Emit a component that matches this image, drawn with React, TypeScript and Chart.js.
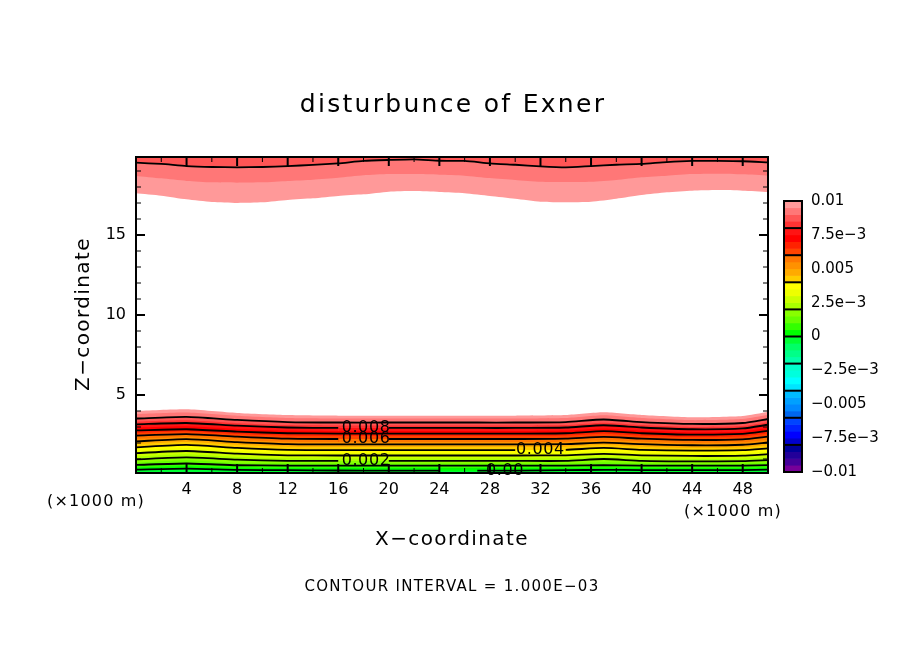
import { useEffect, useRef } from "react";
import { Chart, registerables } from "chart.js";

Chart.register(...registerables);

const BLACK = "#000000";
const FONT = "'DejaVu Sans'";

// x positions (km) of the top layer contours, read every 2 km
const TOP_X = [0, 2, 4, 6, 8, 10, 12, 14, 16, 18, 20, 22, 24, 26, 28, 30, 32, 34, 36, 38, 40, 42, 44, 46, 48, 50];
const TOP_090 = [19.52, 19.44, 19.31, 19.25, 19.23, 19.25, 19.31, 19.38, 19.48, 19.63, 19.69, 19.73, 19.64, 19.63, 19.48, 19.39, 19.29, 19.23, 19.31, 19.39, 19.44, 19.56, 19.63, 19.63, 19.61, 19.54];
const TOP_095 = [18.69, 18.54, 18.38, 18.29, 18.27, 18.29, 18.38, 18.46, 18.58, 18.73, 18.81, 18.81, 18.77, 18.71, 18.56, 18.44, 18.33, 18.31, 18.33, 18.44, 18.61, 18.71, 18.81, 18.83, 18.79, 18.71];
const TOP_100 = [17.61, 17.46, 17.23, 17.06, 17.0, 17.04, 17.19, 17.29, 17.44, 17.54, 17.71, 17.75, 17.69, 17.61, 17.44, 17.27, 17.08, 17.04, 17.08, 17.27, 17.5, 17.67, 17.77, 17.81, 17.77, 17.69];

// x positions (km) of the low layer contours
const LOW_X = [0, 4, 8, 12, 16, 20, 24, 27, 30, 34, 37, 40, 44, 48, 50];
const LOW_100 = [4.0, 4.11, 3.88, 3.75, 3.71, 3.71, 3.71, 3.71, 3.71, 3.75, 3.92, 3.75, 3.61, 3.69, 3.96];
const LOW_095 = [3.8, 3.9, 3.7, 3.56, 3.53, 3.53, 3.53, 3.53, 3.53, 3.56, 3.73, 3.56, 3.43, 3.5, 3.77];
const LOW_090 = [3.53, 3.63, 3.44, 3.31, 3.28, 3.28, 3.28, 3.28, 3.28, 3.31, 3.47, 3.31, 3.19, 3.25, 3.5];
const LOW_085 = [3.33, 3.42, 3.24, 3.12, 3.09, 3.09, 3.09, 3.09, 3.09, 3.12, 3.27, 3.12, 3.0, 3.06, 3.3];
const LOW_080 = [3.17, 3.25, 3.08, 2.97, 2.94, 2.94, 2.94, 2.94, 2.94, 2.97, 3.11, 2.97, 2.86, 2.91, 3.14];
const LOW_075 = [2.96, 3.04, 2.88, 2.78, 2.75, 2.75, 2.75, 2.75, 2.75, 2.78, 2.91, 2.78, 2.67, 2.72, 2.93];
const LOW_070 = [2.79, 2.86, 2.71, 2.61, 2.59, 2.59, 2.59, 2.59, 2.59, 2.61, 2.74, 2.61, 2.52, 2.57, 2.76];
const LOW_065 = [2.63, 2.72, 2.56, 2.46, 2.44, 2.44, 2.44, 2.44, 2.44, 2.46, 2.58, 2.46, 2.37, 2.42, 2.6];
const LOW_060 = [2.46, 2.55, 2.4, 2.27, 2.25, 2.25, 2.25, 2.25, 2.25, 2.27, 2.38, 2.27, 2.19, 2.23, 2.4];
const LOW_055 = [2.26, 2.38, 2.21, 2.08, 2.06, 2.06, 2.06, 2.06, 2.06, 2.08, 2.18, 2.08, 2.0, 2.04, 2.2];
const LOW_050 = [2.1, 2.24, 2.06, 1.93, 1.91, 1.91, 1.91, 1.91, 1.91, 1.93, 2.02, 1.93, 1.86, 1.89, 2.03];
const LOW_045 = [1.93, 2.06, 1.89, 1.77, 1.75, 1.75, 1.75, 1.75, 1.75, 1.77, 1.87, 1.77, 1.7, 1.73, 1.86];
const LOW_040 = [1.73, 1.88, 1.69, 1.57, 1.56, 1.56, 1.56, 1.56, 1.56, 1.57, 1.69, 1.57, 1.52, 1.55, 1.66];
const LOW_035 = [1.54, 1.68, 1.5, 1.39, 1.38, 1.38, 1.38, 1.38, 1.38, 1.39, 1.5, 1.39, 1.34, 1.37, 1.47];
const LOW_030 = [1.37, 1.5, 1.33, 1.23, 1.22, 1.22, 1.22, 1.22, 1.22, 1.23, 1.32, 1.23, 1.19, 1.21, 1.3];
const LOW_025 = [1.16, 1.3, 1.13, 1.04, 1.03, 1.03, 1.03, 1.03, 1.03, 1.04, 1.14, 1.04, 1.0, 1.02, 1.09];
const LOW_020 = [0.98, 1.1, 0.96, 0.88, 0.88, 0.88, 0.88, 0.88, 0.88, 0.88, 1.0, 0.88, 0.85, 0.87, 0.93];
const LOW_015 = [0.77, 0.92, 0.75, 0.73, 0.72, 0.72, 0.72, 0.72, 0.72, 0.73, 0.8, 0.73, 0.7, 0.71, 0.76];
const LOW_010 = [0.63, 0.72, 0.61, 0.59, 0.59, 0.59, 0.59, 0.59, 0.59, 0.59, 0.62, 0.59, 0.58, 0.59, 0.62];
const LOW_005 = [0.47, 0.55, 0.45, 0.44, 0.44, 0.44, 0.44, 0.44, 0.44, 0.44, 0.46, 0.44, 0.43, 0.44, 0.46];
const LOW_000 = [0.33, 0.4, 0.32, 0.3, 0.28, 0.27, 0.27, 0.27, 0.27, 0.3, 0.32, 0.31, 0.3, 0.31, 0.33];

// 0.0005 wide colour bands, from 0.01 down to -0.01
const BAND_COLORS = [
  "#ff9999", "#ff7777", "#ff5555", "#ff3333",
  "#ff1414", "#ff0000", "#ff2200", "#ff4400",
  "#ff7700", "#ff9100", "#ffaa00", "#ffcc00",
  "#ffff00", "#eeff00", "#ccff00", "#aaff00",
  "#88ff00", "#66ff00", "#33ff00", "#00ff00",
  "#00ff33", "#00ff66", "#00ff88", "#00ffaa",
  "#00ffcc", "#00ffdd", "#00ffff", "#00e5ff",
  "#00bbff", "#00a0ff", "#0088ff", "#0066ee",
  "#0044ff", "#0022ff", "#0000ff", "#0000cc",
  "#000099", "#220099", "#440099", "#770099",
];
const BAR_TICK_VALUES = [0.01, 0.0075, 0.005, 0.0025, 0, -0.0025, -0.005, -0.0075, -0.01];
const BAR_TICK_LABELS = ["0.01", "7.5e\u22123", "0.005", "2.5e\u22123", "0", "\u22122.5e\u22123", "\u22120.005", "\u22127.5e\u22123", "\u22120.01"];
const BAR_SEPARATORS = [0.008, 0.006, 0.004, 0.002, 0, -0.002, -0.004, -0.006, -0.008];

const LOW_CURVES = [
  { band: 20, heights: LOW_000, line: true, gap: [24, 27] },
  { band: 19, heights: LOW_005, line: false },
  { band: 18, heights: LOW_010, line: true },
  { band: 17, heights: LOW_015, line: false },
  { band: 16, heights: LOW_020, line: true, gap: [16, 20] },
  { band: 15, heights: LOW_025, line: false },
  { band: 14, heights: LOW_030, line: true },
  { band: 13, heights: LOW_035, line: false },
  { band: 12, heights: LOW_040, line: true, gap: [30, 34] },
  { band: 11, heights: LOW_045, line: false },
  { band: 10, heights: LOW_050, line: true },
  { band: 9, heights: LOW_055, line: false },
  { band: 8, heights: LOW_060, line: true, gap: [16, 20] },
  { band: 7, heights: LOW_065, line: false },
  { band: 6, heights: LOW_070, line: true },
  { band: 5, heights: LOW_075, line: false },
  { band: 4, heights: LOW_080, line: true, gap: [16, 20] },
  { band: 3, heights: LOW_085, line: false },
  { band: 2, heights: LOW_090, line: true },
  { band: 1, heights: LOW_095, line: false },
  { band: 0, heights: LOW_100, line: false },
];

const TOP_CURVES = [
  { band: 2, heights: TOP_090, line: true },
  { band: 1, heights: TOP_095, line: false },
  { band: 0, heights: TOP_100, line: false },
];

const CONTOUR_LABELS = [
  { text: "0.008", x: 18.2, z: 2.94 },
  { text: "0.006", x: 18.2, z: 2.25 },
  { text: "0.002", x: 18.2, z: 0.88 },
  { text: "0.004", x: 32, z: 1.56 },
  { text: "0.00", x: 29.2, z: 0.27 },
];

function drawText(ctx: CanvasRenderingContext2D, text: string, x: number, y: number, size: number, spacing: number, rotate = false) {
  ctx.save();
  ctx.translate(x, y);
  if (rotate) ctx.rotate(-Math.PI / 2);
  ctx.font = `${size}px ${FONT}`;
  ctx.letterSpacing = `${spacing}px`;
  ctx.fillStyle = BLACK;
  ctx.textAlign = "center";
  ctx.textBaseline = "middle";
  ctx.fillText(text, 0, 0);
  ctx.restore();
}

// frame, inward ticks, contour labels and captions
const decorations = {
  id: "decorations",
  afterDatasetsDraw(chart: any) {
    const { ctx, chartArea: a, scales } = chart;
    ctx.save();
    ctx.strokeStyle = BLACK;
    for (const t of scales.x.ticks) {
      const major = t.value % 4 === 0;
      const px = scales.x.getPixelForValue(t.value);
      const len = major ? 9 : 5;
      ctx.lineWidth = major ? 2 : 1;
      ctx.beginPath();
      ctx.moveTo(px, a.bottom);
      ctx.lineTo(px, a.bottom - len);
      ctx.moveTo(px, a.top);
      ctx.lineTo(px, a.top + len);
      ctx.stroke();
    }
    for (const t of scales.y.ticks) {
      const major = t.value % 5 === 0;
      const py = scales.y.getPixelForValue(t.value);
      const len = major ? 9 : 5;
      ctx.lineWidth = major ? 2 : 1;
      ctx.beginPath();
      ctx.moveTo(a.left, py);
      ctx.lineTo(a.left + len, py);
      ctx.moveTo(a.right, py);
      ctx.lineTo(a.right - len, py);
      ctx.stroke();
    }
    ctx.lineWidth = 2;
    ctx.strokeRect(a.left, a.top, a.right - a.left, a.bottom - a.top);
    ctx.restore();

    for (const l of CONTOUR_LABELS) {
      drawText(ctx, l.text, scales.x.getPixelForValue(l.x), scales.y.getPixelForValue(l.z), 16, 0.6);
    }
    drawText(ctx, "disturbunce of Exner", 453, 105, 25, 2.3);
    drawText(ctx, "Z\u2212coordinate", 84, 314, 20, 1.4, true);
    drawText(ctx, "X\u2212coordinate", 452, 540, 20, 1.4);
    drawText(ctx, "CONTOUR INTERVAL = 1.000E\u221203", 452, 587, 15, 1.3);
    drawText(ctx, "(\u00d71000 m)", 96, 502, 16, 1.2);
    drawText(ctx, "(\u00d71000 m)", 733, 512, 16, 1.2);
  },
};

const barFrame = {
  id: "barFrame",
  afterDatasetsDraw(chart: any) {
    const { ctx, chartArea: a, scales } = chart;
    ctx.save();
    ctx.strokeStyle = BLACK;
    ctx.lineWidth = 2;
    for (const v of BAR_SEPARATORS) {
      const py = scales.y.getPixelForValue(v);
      ctx.beginPath();
      ctx.moveTo(a.left, py);
      ctx.lineTo(a.right, py);
      ctx.stroke();
    }
    ctx.strokeRect(a.left, a.top, a.right - a.left, a.bottom - a.top);
    ctx.restore();
  },
};

function curveDataset(c: any, xs: number[], fill: string) {
  return {
    data: xs.map((x, i) => ({ x, y: c.heights[i] })),
    backgroundColor: BAND_COLORS[c.band],
    borderColor: BLACK,
    borderWidth: c.line ? 1.8 : 0,
    fill,
    pointRadius: 0,
    tension: 0.2,
    segment: c.gap
      ? { borderColor: (s: any) => (s.p0.parsed.x === c.gap[0] ? "transparent" : undefined) }
      : undefined,
  };
}

const plotTickFont = { family: FONT, size: 16 };
const barTickFont = { family: FONT, size: 15 };

export default function App() {
  const plotRef = useRef<HTMLCanvasElement>(null);
  const barRef = useRef<HTMLCanvasElement>(null);

  useEffect(() => {
    if (!plotRef.current || !barRef.current) return;

    const plot = new Chart(plotRef.current, {
      type: "line",
      data: {
        datasets: [
          ...TOP_CURVES.map((c) => curveDataset(c, TOP_X, "end")),
          ...LOW_CURVES.map((c) => curveDataset(c, LOW_X, "start")),
        ] as any,
      },
      options: {
        responsive: false,
        animation: false,
        devicePixelRatio: 1,
        layout: { padding: { top: 157, right: 136, bottom: 0, left: 0 } },
        plugins: { legend: { display: false }, tooltip: { enabled: false }, filler: { drawTime: "beforeDatasetsDraw" } },
        scales: {
          x: {
            type: "linear",
            min: 0,
            max: 50,
            grid: { display: false, drawTicks: false },
            border: { display: false },
            afterFit: (s: any) => { s.height = 181; },
            ticks: {
              stepSize: 2,
              autoSkip: false,
              maxRotation: 0,
              includeBounds: false,
              padding: 7,
              color: BLACK,
              font: plotTickFont,
              callback: (v: any) => (v % 4 === 0 && v > 0 && v < 50 ? String(v) : ""),
            },
          },
          y: {
            type: "linear",
            min: 0.125,
            max: 19.875,
            grid: { display: false, drawTicks: false },
            border: { display: false },
            afterFit: (s: any) => { s.width = 136; },
            ticks: {
              stepSize: 1,
              autoSkip: false,
              includeBounds: false,
              padding: 10,
              color: BLACK,
              font: plotTickFont,
              callback: (v: any) => (v % 5 === 0 && v > 0 ? String(v) : ""),
            },
          },
        },
      },
      plugins: [decorations],
    } as any);

    const bar = new Chart(barRef.current, {
      type: "bar",
      data: {
        labels: ["bar"],
        datasets: BAND_COLORS.map((color, i) => ({
          data: [[0.01 - (i + 1) * 0.0005, 0.01 - i * 0.0005]],
          backgroundColor: color,
          barPercentage: 1,
          categoryPercentage: 1,
          grouped: false,
        })) as any,
      },
      options: {
        responsive: false,
        animation: false,
        devicePixelRatio: 1,
        layout: { padding: { top: 201, left: 784, bottom: 0, right: 0 } },
        plugins: { legend: { display: false }, tooltip: { enabled: false } },
        scales: {
          x: {
            display: true,
            grid: { display: false, drawTicks: false },
            border: { display: false },
            ticks: { display: false },
            afterFit: (s: any) => { s.height = 182; },
          },
          y: {
            position: "right",
            min: -0.01,
            max: 0.01,
            grid: { display: false, drawTicks: false },
            border: { display: false },
            afterFit: (s: any) => { s.width = 102; },
            afterBuildTicks: (s: any) => { s.ticks = BAR_TICK_VALUES.map((value) => ({ value })); },
            ticks: {
              autoSkip: false,
              padding: 9,
              color: BLACK,
              font: barTickFont,
              callback: (_v: any, i: number) => BAR_TICK_LABELS[i],
            },
          },
        },
      },
      plugins: [barFrame],
    } as any);

    return () => {
      plot.destroy();
      bar.destroy();
    };
  }, []);

  return (
    <div style={{ position: "absolute", left: 0, top: 0, width: 904, height: 654, background: "#ffffff" }}>
      <canvas ref={plotRef} width={904} height={654} style={{ position: "absolute", left: 0, top: 0 }} />
      <canvas ref={barRef} width={904} height={654} style={{ position: "absolute", left: 0, top: 0 }} />
    </div>
  );
}
